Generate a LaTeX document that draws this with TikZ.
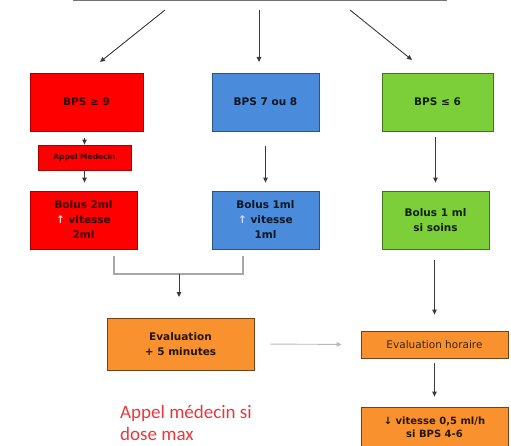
\documentclass[tikz,border=0pt]{standalone}
\usepackage{fontspec}
\setmainfont{DejaVu Sans}
\newfontfamily\notefont{Carlito}
\usetikzlibrary{arrows.meta,positioning}
\definecolor{cred}{HTML}{FF0000}
\definecolor{cblue}{HTML}{4A8CDB}
\definecolor{cgreen}{HTML}{7DCF3A}
\definecolor{corange}{HTML}{F9922E}
\definecolor{carrow}{HTML}{3A3A3A}
\definecolor{cbrk}{HTML}{A8A8A8}
\definecolor{cnote}{HTML}{E8383D}
\tikzset{
  box/.style={draw, rectangle, line width=0.8pt, align=center, inner sep=2pt,
    font=\bfseries\fontsize{10.5}{15}\selectfont},
  redbox/.style={box, fill=cred, draw=cred!65!black, text=cred!20!black},
  bluebox/.style={box, fill=cblue, draw=cblue!60!black, text=cblue!15!black},
  greenbox/.style={box, fill=cgreen, draw=cgreen!55!black, text=cgreen!15!black},
  orbox/.style={box, fill=corange, draw=corange!45!black, text=corange!15!black},
  pre/.style={-{Triangle[length=5pt,width=4.5pt]}, line width=0.9pt, draw=carrow},
  brk/.style={line width=1.2pt, draw=cbrk},
  note/.style={font=\notefont\fontsize{19}{22}\selectfont, text=cnote, align=left, inner sep=0pt},
}
\begin{document}
\begin{tikzpicture}[x=1pt,y=-1pt]
\useasboundingbox (0,0) rectangle (511,446);
\clip (0,0) rectangle (511,446);
% top line and the three branches
\coordinate (tl) at (73,1); \coordinate (tr) at (447,1);
\draw[line width=1pt, draw=black!55] (tl) -- (tr);
\coordinate (a1) at (165,10); \coordinate (b1) at (100,62);
\coordinate (a2) at (259,10); \coordinate (b2) at (259,62);
\coordinate (a3) at (350,10); \coordinate (b3) at (412,60);
\draw[pre] (a1) -- (b1); \draw[pre] (a2) -- (b2); \draw[pre] (a3) -- (b3);
% BPS boxes
\node[redbox, minimum width=113, minimum height=58] (bps9) at (86.5,102) {BPS ≥ 9};
\node[bluebox, minimum width=107, minimum height=58] (bps78) at (265.5,102) {BPS 7 ou 8};
\node[greenbox, minimum width=111, minimum height=58] (bps6) at (437.5,102) {BPS ≤ 6};
\node[redbox, minimum width=93, minimum height=25, font=\bfseries\fontsize{7.5}{9}\selectfont] (appel) at (84.5,157.5) {Appel Médecin};
% bolus boxes
\node[redbox, minimum width=107, minimum height=58] (bol2) at (83.5,220) {Bolus 2ml\\{\color{white!85!red}↑} vitesse\\2ml};
\node[bluebox, minimum width=107, minimum height=58] (bol1) at (265.5,220) {Bolus 1ml\\{\color{white!85!blue}↑} vitesse\\1ml};
\node[greenbox, minimum width=107, minimum height=58] (bols) at (435.5,220) {Bolus 1 ml\\si soins};
\draw[pre, shorten <=7pt] (bps9.south -| appel.north) -- (appel.north);
\draw[pre, shorten >=8pt] (appel.south) -- (bol2.north -| appel.south);
\draw[pre, shorten <=15pt, shorten >=8pt] (bps78) -- (bol1);
\draw[pre, shorten <=6pt, shorten >=8pt] (bps6.south -| bols.north) -- (bols.north);
% evaluations
\node[orbox, minimum width=147, minimum height=52] (ev5) at (180.5,344) {Evaluation\\+ 5 minutes};
\node[orbox, minimum width=147, minimum height=27, font=\fontsize{10.5}{12}\selectfont, text=corange!10!black!80!brown] (evh) at (434.5,344.5) {Evaluation horaire};
\node[orbox, minimum width=147, minimum height=40, font=\bfseries\fontsize{10}{13}\selectfont] (vit) at (434.5,427) {↓ vitesse 0,5 ml/h\\si BPS 4-6};
% bracket joining the two bolus
\coordinate (k1) at (114,256); \coordinate (k2) at (114,274);
\coordinate (k3) at (243,256); \coordinate (k4) at (243,274);
\coordinate (km) at (179,274); \coordinate (kd) at (179,297);
\draw[brk] (k1) -- (k2) -- (k4) -- (k3);
\draw[pre] (km) -- (kd);
\draw[pre, draw=cbrk!80, shorten <=16pt, shorten >=19pt] (ev5.east) -- (evh.west);
\draw[pre, shorten <=11pt, shorten >=16pt] (bols.south -| evh.north) -- (evh.north);
\draw[pre, shorten <=5pt, shorten >=10pt] (evh) -- (vit);
\node[note, anchor=base west] (dmax) at (120,440) {Appel médecin si\\dose max};
\end{tikzpicture}
\end{document}
